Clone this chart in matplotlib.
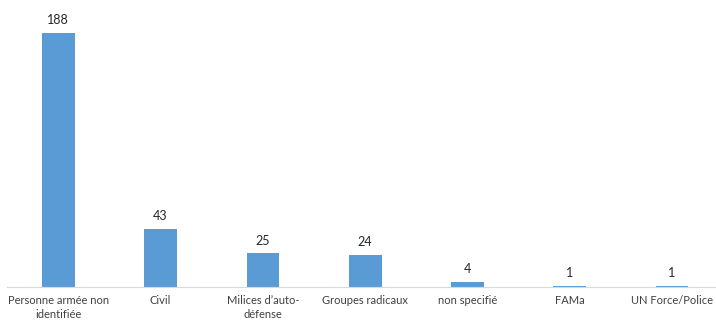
import numpy as np
import matplotlib.pyplot as plt

categories = ["Personne armée non\nidentifiée", "Civil", "Milices d’auto-\ndéfense",
              "Groupes radicaux", "non specifié", "FAMa", "UN Force/Police"]
values = [188, 43, 25, 24, 4, 1, 1]

plt.rcParams['font.family'] = ['Lato', 'DejaVu Sans']

fig = plt.figure(figsize=(7.16, 3.2), dpi=100)
ax = fig.add_axes([0.01, 0.103, 0.99, 0.844])

x = np.arange(len(categories))
bars = ax.bar(x, values, width=0.32, color='#5b9bd5')
for xi, v in zip(x, values):
    ax.text(xi, v + 5, str(v), ha='center', va='bottom', fontsize=9, color='#262626')

ax.set_xlim(-0.5, 6.43)
ax.set_ylim(0, 200)
ax.set_xticks(x)
ax.set_xticklabels(categories, fontsize=8, color='#404040', linespacing=1.25)
ax.tick_params(axis='x', length=0, pad=6)
ax.set_yticks([])
for s in ['top', 'right', 'left']:
    ax.spines[s].set_visible(False)
ax.spines['bottom'].set_color('#d9d9d9')

fig.savefig('out.png', dpi=100)
